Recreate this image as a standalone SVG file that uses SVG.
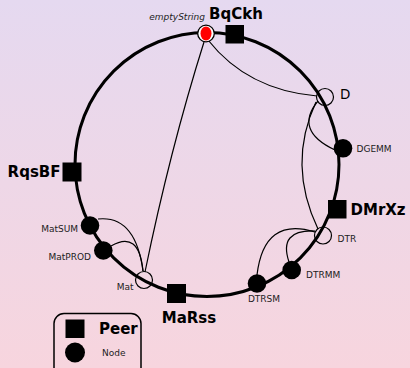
<svg xmlns="http://www.w3.org/2000/svg" width="410" height="368" viewBox="0 0 410 368">
<defs>
<linearGradient id="bg" x1="0" y1="0" x2="0" y2="1">
<stop offset="0" stop-color="#e5d9f0"/>
<stop offset="1" stop-color="#f7d5de"/>
</linearGradient>
<style>
.edge{fill:none;stroke:#000;stroke-width:1.2}
.ring{fill:none;stroke:#000;stroke-width:3}
.peer{fill:#000}
.node{fill:#000}
.hollow{fill:none;stroke:#000;stroke-width:1.2}
.lbl{font-family:"DejaVu Sans",sans-serif;font-size:9px;fill:#222}
.big{font-family:"DejaVu Sans",sans-serif;font-size:15px;font-weight:bold;fill:#000}
</style>
</defs>
<rect width="410" height="368" fill="url(#bg)"/>
<circle class="ring" cx="207" cy="164.5" r="132"/>
<g id="connectors">
<path class="edge" d="M208,40 Q247.5,90 317,96"/>
<path class="edge" d="M204,42 Q170,150 145,272"/>
<path class="edge" d="M318,101 Q293.5,130.5 335,150"/>
<path class="edge" d="M316,102 Q287,164 318,229"/>
<path class="edge" d="M315,231 Q278,229.5 289,262"/>
<path class="edge" d="M315,232 Q264,216 257,275"/>
<path class="edge" d="M98,219 Q135.5,215 143,271"/>
<path class="edge" d="M111,246 Q139,229.5 143,271"/>
</g>
<g id="emptyString">
<circle cx="206" cy="33.5" r="8.3" fill="#fff" stroke="#000" stroke-width="1.3"/>
<ellipse cx="206" cy="33.5" rx="5.5" ry="7" fill="#f00"/>
<text class="lbl" x="205" y="20" text-anchor="end" font-style="italic">emptyString</text>
</g>
<g id="BqCkh">
<rect class="peer" x="225.5" y="25" width="18.5" height="18.5"/>
<text class="big" x="209" y="19">BqCkh</text>
</g>
<g id="D">
<circle class="hollow" cx="325" cy="97" r="8.5"/>
<text x="340" y="98.5" font-family="DejaVu Sans, sans-serif" font-size="13.5" fill="#000">D</text>
</g>
<g id="DGEMM">
<circle class="node" cx="343" cy="148.3" r="9.3"/>
<text class="lbl" x="356.5" y="151.5">DGEMM</text>
</g>
<g id="DMrXz">
<rect class="peer" x="328" y="200" width="18.5" height="18.5"/>
<text class="big" x="350.5" y="215">DMrXz</text>
</g>
<g id="DTR">
<circle class="hollow" cx="323" cy="235.5" r="8.5"/>
<text class="lbl" x="337.5" y="242">DTR</text>
</g>
<g id="DTRMM">
<circle class="node" cx="291.7" cy="270" r="9.3"/>
<text class="lbl" x="306" y="277.5">DTRMM</text>
</g>
<g id="DTRSM">
<circle class="node" cx="257" cy="283.5" r="9.3"/>
<text class="lbl" x="264" y="302" text-anchor="middle">DTRSM</text>
</g>
<g id="MaRss">
<rect class="peer" x="167" y="284" width="19" height="19"/>
<text class="big" x="189" y="323" text-anchor="middle">MaRss</text>
</g>
<g id="Mat">
<circle class="hollow" cx="144" cy="280" r="8.5"/>
<text class="lbl" x="133.5" y="290" text-anchor="end">Mat</text>
</g>
<g id="MatPROD">
<circle class="node" cx="103.3" cy="250.5" r="9.3"/>
<text class="lbl" x="91" y="259.5" text-anchor="end">MatPROD</text>
</g>
<g id="MatSUM">
<circle class="node" cx="90" cy="225.5" r="9.3"/>
<text class="lbl" x="78" y="231.5" text-anchor="end">MatSUM</text>
</g>
<g id="RqsBF">
<rect class="peer" x="62.5" y="162.5" width="19" height="19"/>
<text class="big" x="60.5" y="177" text-anchor="end">RqsBF</text>
</g>
<g id="legend">
<rect x="54" y="313.5" width="87" height="70" rx="10" fill="none" stroke="#000" stroke-width="1.5"/>
<rect class="peer" x="65.5" y="319.5" width="19" height="18.5"/>
<text class="big" x="99" y="333.5">Peer</text>
<circle class="node" cx="75" cy="352.5" r="10"/>
<text class="lbl" x="102" y="355.5">Node</text>
</g>
</svg>
